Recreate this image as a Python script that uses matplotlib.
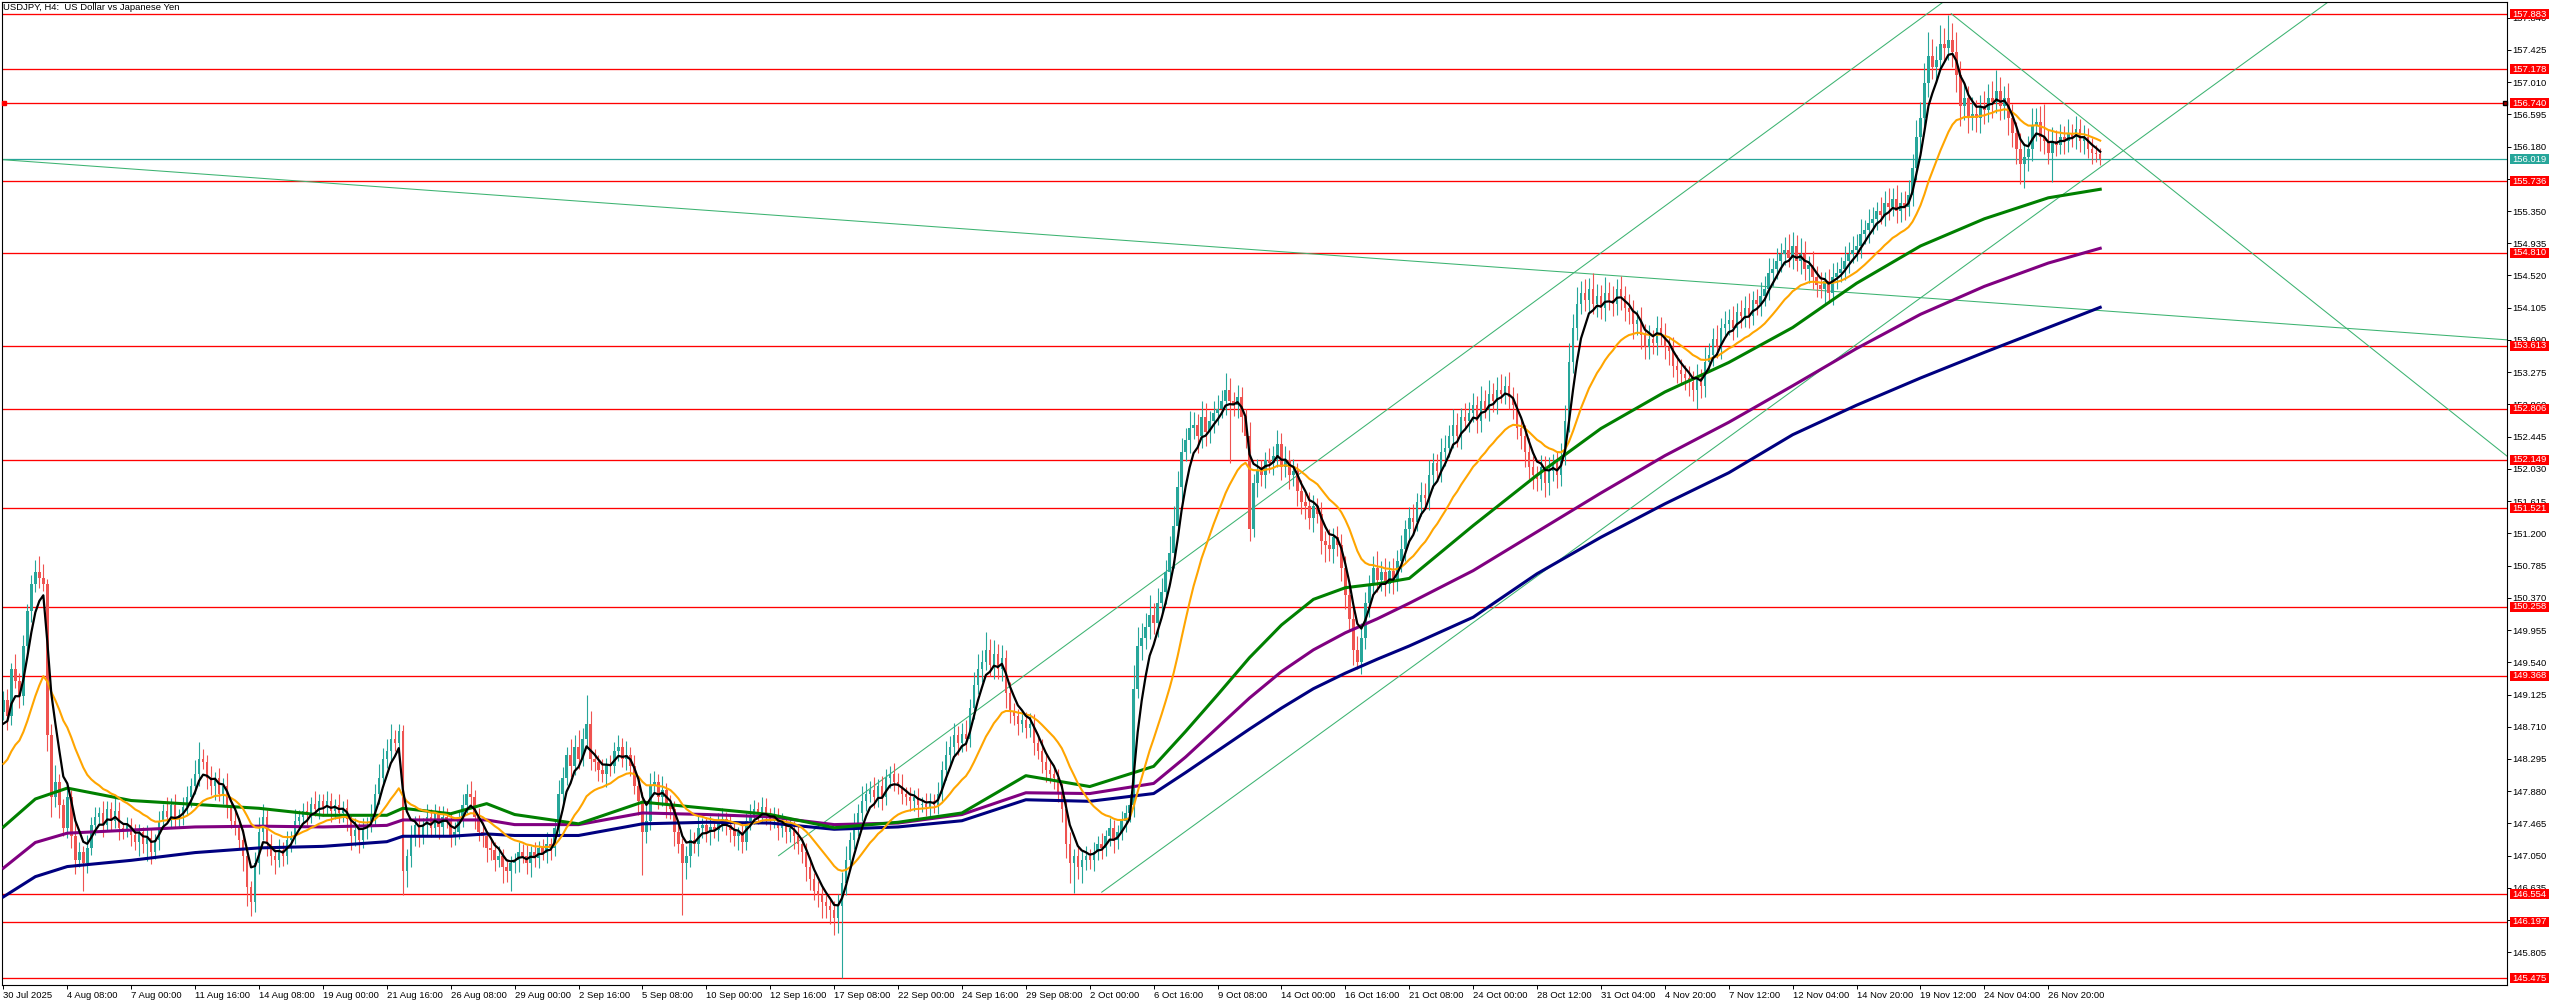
import numpy as np
import pandas as pd
import matplotlib
matplotlib.use("Agg")
import matplotlib.pyplot as plt
from matplotlib.patches import Rectangle
from matplotlib.transforms import blended_transform_factory

W, H, DPI = 2560, 1006, 100
plt.rcParams['font.family'] = ['Liberation Sans', 'DejaVu Sans']

# ---------------- data (H4 USDJPY, one value per bar) ----------------
closes = [
    149.05,148.85,149.45,149.30,149.10,149.75,150.20,150.55,150.70,150.62,150.55,148.60,147.80,148.00,147.70,147.40,
    147.80,147.30,147.00,147.10,146.95,147.15,147.45,147.55,147.60,147.45,147.65,147.50,147.62,147.40,147.38,147.45,
    147.32,147.22,147.35,147.20,147.28,147.10,147.25,147.50,147.62,147.55,147.70,147.52,147.58,147.68,147.80,147.95,
    148.10,148.30,148.25,148.05,147.95,148.05,147.85,147.95,147.70,147.50,147.45,147.25,147.05,146.65,146.45,146.95,
    147.35,147.55,147.20,147.05,147.00,147.12,147.05,147.25,147.30,147.50,147.55,147.62,147.58,147.72,147.65,147.75,
    147.68,147.75,147.62,147.70,147.60,147.66,147.52,147.30,147.38,147.25,147.40,147.45,147.55,147.85,148.05,148.30,
    148.40,148.55,148.50,148.65,146.85,147.05,147.30,147.45,147.30,147.45,147.55,147.40,147.60,147.42,147.55,147.50,
    147.30,147.35,147.55,147.70,147.85,147.80,147.55,147.35,147.30,147.15,147.12,147.00,147.05,146.90,146.85,146.95,
    147.00,147.10,147.05,146.95,147.10,147.02,147.15,147.08,147.20,147.15,147.40,147.85,148.05,148.35,148.20,148.45,
    148.30,148.55,148.75,148.30,148.25,148.15,148.10,148.22,148.20,148.40,148.45,148.30,148.35,148.20,147.95,147.75,
    147.35,147.50,147.95,148.00,147.80,147.90,147.70,147.65,147.35,147.20,146.95,147.05,147.25,147.20,147.40,147.45,
    147.35,147.42,147.38,147.48,147.52,147.45,147.38,147.30,147.35,147.22,147.50,147.55,147.65,147.60,147.68,147.58,
    147.50,147.55,147.40,147.45,147.35,147.40,147.30,147.20,147.10,146.90,146.75,146.60,146.55,146.45,146.40,146.35,
    146.25,146.40,146.70,147.00,147.25,147.45,147.60,147.75,147.85,147.90,147.80,147.95,147.80,148.05,148.10,148.00,
    147.95,147.85,147.80,147.75,147.80,147.70,147.72,147.68,147.75,147.70,147.85,148.15,148.35,148.45,148.60,148.50,
    148.62,148.55,148.95,149.25,149.45,149.55,149.70,149.50,149.65,149.45,149.60,149.15,148.90,148.85,148.75,148.80,
    148.70,148.75,148.50,148.40,148.25,148.15,148.10,148.05,147.85,147.65,147.20,146.95,147.05,146.90,147.00,147.05,
    147.00,147.10,147.20,147.15,147.30,147.40,147.25,147.35,147.50,147.60,147.70,149.20,149.75,149.85,150.00,150.15,
    150.05,150.30,150.45,150.70,150.95,151.30,151.80,152.25,152.40,152.55,152.60,152.45,152.70,152.50,152.65,152.75,
    152.80,152.90,153.05,152.90,152.85,152.95,152.70,152.45,151.25,151.85,152.00,151.95,152.15,152.10,152.20,152.35,
    152.05,152.15,151.95,152.00,151.75,151.60,151.55,151.40,151.55,151.45,151.10,151.05,151.00,151.15,151.05,150.75,
    150.40,150.10,149.70,149.55,149.85,150.30,150.55,150.75,150.60,150.70,150.55,150.72,150.60,150.85,151.00,151.25,
    151.40,151.35,151.60,151.70,151.65,151.95,152.10,152.00,152.25,152.30,152.45,152.60,152.45,152.70,152.65,152.75,
    152.85,152.65,152.90,152.80,153.00,152.90,153.05,153.00,153.10,152.95,152.85,152.55,152.45,152.25,152.05,151.95,
    151.90,152.05,151.85,152.00,152.10,151.95,152.20,152.65,153.40,153.85,154.15,154.30,154.20,154.35,154.15,154.25,
    154.10,154.30,154.20,154.15,154.35,154.25,154.10,154.05,153.90,153.95,153.75,153.60,153.70,153.65,153.85,153.75,
    153.60,153.55,153.35,153.30,153.25,153.20,153.15,153.05,153.20,153.10,153.40,153.50,153.70,153.60,153.85,153.90,
    153.95,153.85,154.05,154.00,154.10,154.00,154.20,154.15,154.25,154.35,154.55,154.60,154.70,154.80,154.85,154.75,
    154.90,154.70,154.80,154.60,154.65,154.50,154.40,154.35,154.45,154.30,154.50,154.55,154.60,154.70,154.80,154.85,
    154.90,155.05,155.10,155.20,155.25,155.35,155.30,155.45,155.40,155.50,155.35,155.45,155.40,155.55,155.90,156.30,
    156.55,157.00,157.35,157.20,157.30,157.50,157.45,157.55,157.40,157.10,156.70,156.80,156.55,156.60,156.55,156.70,
    156.65,156.80,156.75,156.90,156.70,156.80,156.55,156.35,156.15,155.95,156.05,156.15,156.45,156.50,156.30,156.25,
    156.10,156.25,156.20,156.30,156.25,156.35,156.30,156.40,156.25,156.30,156.15,156.10,156.08,156.02,
]
first_open = 148.90

upper_wick_pips = [
    12,15,8,20,10,14,9,12,16,21,18,6,15,22,10,8,
    14,9,18,12,7,16,10,13,8,15,11,9,17,12,6,10,
    9,14,11,7,16,12,8,13,10,18,9,14,7,12,15,10,
    18,22,12,9,15,8,13,10,16,7,12,9,14,11,8,15,
    20,16,9,13,8,14,10,12,7,15,9,11,13,8,16,10,
    9,13,11,8,14,10,12,7,15,9,13,10,16,12,18,14,
    15,20,12,10,8,9,14,11,13,8,16,10,12,9,14,11,
    10,13,8,15,12,16,9,11,14,7,12,10,13,8,11,9,
    8,12,10,14,7,13,9,11,15,8,12,18,14,10,20,16,
    22,14,37,16,12,10,14,9,13,11,16,12,18,10,14,9,
    12,20,16,14,10,18,9,13,11,15,8,12,14,10,16,9,
    10,14,8,12,15,9,13,11,7,14,10,16,12,9,13,11,
    9,13,11,15,8,12,10,14,9,11,13,8,12,10,9,11,
    12,16,14,18,10,15,12,20,14,11,16,9,13,12,10,14,
    11,15,9,13,10,12,8,14,11,9,15,12,18,14,16,12,
    14,18,12,16,20,15,23,14,18,12,16,10,14,12,9,13,
    10,14,12,9,15,11,13,8,12,14,10,16,9,12,11,13,
    9,12,10,14,8,13,11,9,12,10,14,30,25,20,18,25,
    15,20,18,16,22,25,20,18,15,22,16,14,20,18,12,16,
    18,14,22,15,12,16,14,10,18,12,16,14,10,15,12,18,
    14,18,12,16,10,14,12,18,15,11,16,13,20,12,15,14,
    16,12,14,18,20,15,12,16,22,14,18,12,16,14,18,12,
    14,18,12,16,15,20,14,12,18,16,14,20,15,12,18,14,
    16,12,20,15,18,14,16,20,12,18,14,16,12,15,18,14,
    12,16,14,18,12,15,16,20,25,18,22,15,18,14,20,16,
    15,20,14,18,12,16,14,18,15,12,16,14,18,12,15,14,
    16,12,18,14,15,12,16,14,18,12,20,15,14,18,12,16,
    14,18,12,16,15,20,12,14,18,16,20,15,18,14,16,20,
    18,14,20,16,12,18,14,16,12,15,18,14,16,20,15,18,
    16,20,14,18,15,12,18,16,20,14,18,15,16,20,18,22,
    20,25,30,22,18,25,20,33,22,25,18,20,16,22,18,15,
    20,18,22,27,18,16,20,18,15,20,18,16,22,18,20,43,
    16,18,14,17,15,18,12,17,14,16,12,14,10,8,
]
lower_wick_pips = [
    10,18,12,9,15,11,8,14,10,12,9,20,25,12,16,10,
    12,15,18,10,35,12,9,14,11,16,8,13,10,15,12,9,
    14,10,18,12,22,16,9,13,11,8,15,12,10,14,9,12,
    11,15,9,14,12,18,10,13,16,9,14,12,20,25,18,12,
    14,10,16,12,18,9,13,11,15,10,12,8,14,11,9,13,
    12,9,14,10,13,11,15,18,12,16,10,14,9,11,13,10,
    12,14,10,9,31,20,15,12,14,10,13,11,9,15,12,10,
    14,11,9,13,10,12,16,11,14,18,12,15,10,20,14,25,
    12,16,10,14,18,11,13,9,12,15,10,8,12,9,14,11,
    13,9,12,15,11,14,10,16,12,9,13,11,15,12,10,18,
    55,14,12,10,15,11,16,13,18,12,66,20,14,11,15,12,
    12,16,10,14,11,13,15,12,18,14,10,12,9,14,11,13,
    12,10,15,11,14,12,16,13,15,18,14,12,16,20,15,18,
    22,20,93,16,14,12,15,10,13,11,14,12,16,10,13,12,
    11,14,10,13,12,15,9,12,14,10,11,9,12,14,10,16,
    12,15,10,14,12,16,11,14,18,12,15,20,14,12,15,11,
    14,12,16,10,13,15,12,14,11,16,18,25,38,15,20,14,
    12,15,10,14,11,13,16,12,10,14,12,15,12,18,14,16,
    14,18,12,16,15,20,14,18,12,16,14,22,15,18,14,16,
    15,12,18,80,14,16,20,15,15,10,18,14,16,12,15,14,
    16,12,18,14,20,15,16,14,18,12,16,22,15,18,14,16,
    18,15,20,10,16,14,18,12,15,14,16,12,18,14,15,16,
    14,16,12,18,14,15,16,12,14,18,12,15,14,16,12,14,
    12,16,14,12,15,14,16,12,14,15,18,14,16,20,15,18,
    16,14,18,15,12,16,14,12,15,14,16,12,14,15,12,16,
    14,16,12,15,14,18,16,15,20,14,18,16,15,14,16,12,
    15,18,14,16,12,15,18,14,25,16,14,12,15,14,16,12,
    14,16,12,15,14,16,12,14,15,12,14,16,12,14,15,12,
    15,12,16,14,18,15,16,12,20,14,16,15,12,14,15,12,
    14,15,12,16,14,15,12,14,16,12,15,14,16,12,14,15,
    16,14,18,15,20,14,18,16,20,22,25,18,20,16,18,20,
    18,16,20,14,18,16,22,18,20,25,30,18,16,20,18,16,
    15,38,14,12,16,14,12,15,14,16,12,14,10,8,
]

# fast (black) and medium (orange) averages start from these values before bar 0
black_seed = 148.60
orange_seed = 148.15

# slow averages at these bars
ma_bars = [0,8,16,32,48,64,80,96,100,112,121,128,144,160,176,192,208,224,240,256,272,288,
           296,304,312,320,328,336,344,352,368,384,400,416,432,448,464,480,496,512,525]
ma_green = [147.42,147.78,147.92,147.76,147.71,147.66,147.57,147.57,147.66,147.59,147.72,147.58,
            147.46,147.74,147.66,147.58,147.41,147.48,147.60,148.08,147.94,148.20,148.65,149.12,
            149.60,150.02,150.35,150.50,150.55,150.62,151.30,151.95,152.55,153.02,153.40,153.85,
            154.42,154.90,155.25,155.52,155.63]
ma_purple = [146.89,147.22,147.34,147.38,147.42,147.43,147.42,147.44,147.51,147.51,147.51,147.45,
             147.45,147.60,147.58,147.55,147.45,147.47,147.58,147.86,147.85,147.98,148.32,148.70,
             149.08,149.42,149.70,149.92,150.10,150.30,150.72,151.22,151.72,152.20,152.63,153.10,
             153.58,154.02,154.38,154.68,154.87]
ma_navy = [146.52,146.78,146.91,146.99,147.09,147.15,147.17,147.23,147.30,147.30,147.33,147.31,
           147.31,147.46,147.48,147.47,147.39,147.42,147.50,147.77,147.75,147.85,148.12,148.40,
           148.68,148.95,149.20,149.40,149.58,149.75,150.12,150.68,151.15,151.58,151.98,152.47,
           152.85,153.20,153.53,153.85,154.11]

level_prices = [157.883,157.178,156.740,155.736,154.810,153.613,152.806,152.149,151.521,
                150.258,149.368,146.554,146.197,145.475]
bid_price = 156.019

tick_prices = [round(145.805 + 0.415 * k, 3) for k in range(30)]
time_labels = ["30 Jul 2025","4 Aug 08:00","7 Aug 00:00","11 Aug 16:00","14 Aug 08:00","19 Aug 00:00",
               "21 Aug 16:00","26 Aug 08:00","29 Aug 00:00","2 Sep 16:00","5 Sep 08:00","10 Sep 00:00",
               "12 Sep 16:00","17 Sep 08:00","22 Sep 00:00","24 Sep 16:00","29 Sep 08:00","2 Oct 00:00",
               "6 Oct 16:00","9 Oct 08:00","14 Oct 00:00","16 Oct 16:00","21 Oct 08:00","24 Oct 00:00",
               "28 Oct 12:00","31 Oct 04:00","4 Nov 20:00","7 Nov 12:00","12 Nov 04:00","14 Nov 20:00",
               "19 Nov 12:00","24 Nov 04:00","26 Nov 20:00"]
bars_per_label = 16

# trend lines: (bar, price) anchor pairs
trend_lines = [((0.0, 156.01), (627.2, 153.69)),
               ((194.1, 147.05), (500.0, 158.58)),
               ((275.0, 146.58), (600.0, 158.71)),
               ((487.7, 157.89), (627.2, 152.18))]

# ---------------- figure ----------------
n = min(len(closes), len(upper_wick_pips), len(lower_wick_pips))
c = np.array(closes[:n])
o = np.r_[first_open, c[:-1]]
hi = np.maximum(o, c) + np.array(upper_wick_pips[:n]) / 100.0
lo = np.minimum(o, c) - np.array(lower_wick_pips[:n]) / 100.0
x = np.arange(n)

fig = plt.figure(figsize=(W / DPI, H / DPI), dpi=DPI)
fig.patch.set_facecolor('white')
ax = fig.add_axes([2 / W, 1 - 985 / H, 2505 / W, 983 / H])
ax.set_facecolor('white')
XL = -0.35
ax.set_xlim(XL, XL + 627.2)
ax.set_ylim(145.385, 158.041)

for p in level_prices:
    ax.axhline(p, color='#ff0000', lw=0.95, zorder=1)
ax.axhline(bid_price, color='#26a69a', lw=0.9, zorder=1)

for (x0, y0), (x1, y1) in trend_lines:
    ax.plot([x0, x1], [y0, y1], color='#3cb371', lw=0.75, zorder=1.5)

bull = '#26a69a'
bear = '#ef5350'
cols = np.where(c >= o, bull, bear)
ax.vlines(x, lo, hi, colors=cols, linewidth=0.8, zorder=2)
ax.bar(x, np.maximum(np.abs(c - o), 0.012), bottom=np.minimum(o, c), width=0.62,
       color=cols, linewidth=0, zorder=2.1)

black = pd.Series([black_seed] + list(c)).ewm(span=5, adjust=False).mean().values[1:]
orange = pd.Series([orange_seed] + list(c)).ewm(span=21, adjust=False).mean().values[1:]

ax.plot(ma_bars, ma_navy, color='#000080', lw=2.2, zorder=3, solid_joinstyle='round')
ax.plot(ma_bars, ma_purple, color='#800080', lw=2.2, zorder=3, solid_joinstyle='round')
ax.plot(ma_bars, ma_green, color='#008000', lw=2.2, zorder=3, solid_joinstyle='round')
ax.plot(x, orange, color='#ffa500', lw=1.5, zorder=3.2)
ax.plot(x, black, color='black', lw=1.6, zorder=3.4)

# markers on the 156.740 level
ax.plot([0.2], [156.740], marker='s', ms=2.6, color='#ff0000', clip_on=False, zorder=5)
ax.plot([626.4], [156.740], marker='s', ms=3.2, color='black', mfc='#aa0000', clip_on=False, zorder=5)

# axes style
for s in ax.spines.values():
    s.set_color('black')
    s.set_linewidth(0.8)
ax.yaxis.tick_right()
ax.set_yticks(tick_prices)
ax.set_yticklabels([f"{v:.3f}" for v in tick_prices])
ax.set_xticks([bars_per_label * k for k in range(len(time_labels))])
ax.set_xticklabels(time_labels)
ax.tick_params(axis='y', direction='out', length=2.6, width=0.7, pad=1.4, labelsize=6.8, colors='black')
ax.tick_params(axis='x', direction='out', length=3.0, width=0.7, pad=1.6, labelsize=6.8, colors='black')
for lbl in ax.get_xticklabels():
    lbl.set_horizontalalignment('left')

fig.text(3 / W, 1 - 3 / H, "USDJPY, H4:  US Dollar vs Japanese Yen", ha='left', va='top',
         fontsize=6.8, color='black')

# price boxes at the right
trans = blended_transform_factory(fig.transFigure, ax.transData)
hh = 5.0 / 77.67
def price_box(p, face):
    r = Rectangle((2510 / W, p - hh), 39 / W, 2 * hh, transform=trans, facecolor=face,
                  edgecolor='none', clip_on=False, zorder=10)
    fig.add_artist(r)
    fig.text(2529.5 / W, p, f"{p:.3f}", transform=trans, ha='center', va='center',
             fontsize=6.8, color='white', zorder=11)
for p in level_prices:
    price_box(p, '#ff0000')
price_box(bid_price, '#26a69a')

fig.savefig('out.png', dpi=DPI, facecolor='white')
